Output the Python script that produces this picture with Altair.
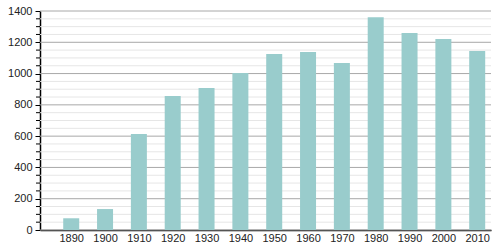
import altair as alt
import pandas as pd

years = [1890, 1900, 1910, 1920, 1930, 1940, 1950, 1960, 1970, 1980, 1990, 2000, 2010]
population = [75, 134, 614, 857, 908, 1004, 1125, 1138, 1068, 1360, 1260, 1221, 1145]
major_ticks = [0, 200, 400, 600, 800, 1000, 1200, 1400]
minor_ticks = [v for v in range(0, 1401, 50) if v % 200 != 0]

df = pd.DataFrame({"year": years, "pop": population})
minor_df = pd.DataFrame({"v": minor_ticks})
major_df = pd.DataFrame({"v": major_ticks})

yscale = alt.Scale(domain=[0, 1400], nice=False, zero=True)
xscale = alt.Scale(domain=[1882.25, 2012.6], nice=False, zero=False)

yaxis = alt.Axis(values=major_ticks, format="d", grid=False, tickSize=5,
                 tickColor="#000000", domainColor="#000000",
                 labelFontSize=11, labelColor="#222222",
                 labelPadding=3, labelFont="Liberation Sans")

minor_grid = alt.Chart(minor_df).mark_rule(color="#e6e6e6", strokeWidth=1).encode(
    y=alt.Y("v:Q", scale=yscale, axis=yaxis, title=None),
    x=alt.value(0), x2=alt.value(451),
)
major_grid = alt.Chart(major_df).mark_rule(color="#a8a8a8", strokeWidth=1).encode(
    y=alt.Y("v:Q", scale=yscale, axis=yaxis, title=None),
    x=alt.value(0), x2=alt.value(451),
)
minor_tick = alt.Chart(minor_df).mark_rule(color="#000000", strokeWidth=1).encode(
    y=alt.Y("v:Q", scale=yscale, axis=yaxis, title=None),
    x=alt.value(-4), x2=alt.value(0),
)

bars = alt.Chart(df).mark_bar(color="#99cccc", size=16).encode(
    x=alt.X("year:Q", scale=xscale, title=None,
            axis=alt.Axis(values=years, format="d", ticks=False, grid=False,
                          domainColor="#000000", labelFontSize=11,
                          labelColor="#222222", labelPadding=2,
                          labelFont="Liberation Sans")),
    y=alt.Y("pop:Q", scale=yscale, title=None, axis=yaxis),
)

chart = alt.layer(minor_grid, major_grid, minor_tick, bars).properties(
    width=451, height=219,
    autosize=alt.AutoSizeParams(type="none"),
    padding={"left": 40, "top": 11, "right": 9, "bottom": 20},
).configure_view(stroke=None).configure_axis(domainWidth=1.5)

chart.save("out.html", embed_options={"renderer": "svg", "actions": False})
